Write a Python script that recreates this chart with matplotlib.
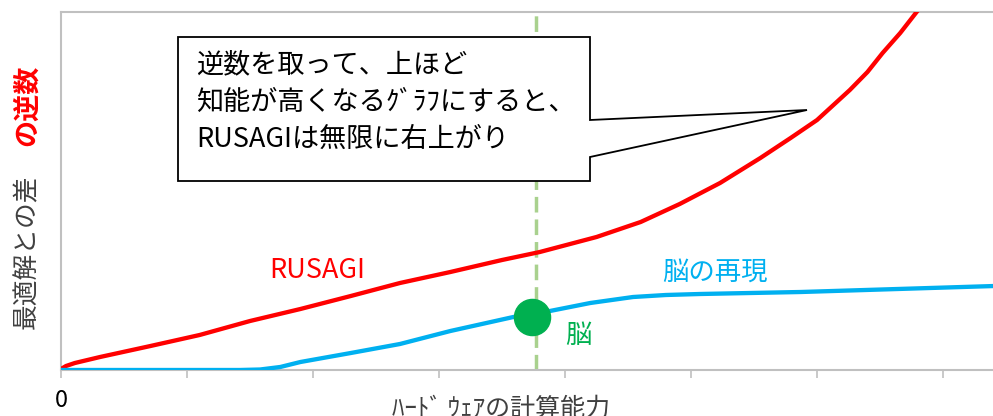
import matplotlib.pyplot as plt
from matplotlib.patches import Polygon

plt.rcParams['font.family'] = ['Noto Sans CJK JP', 'DejaVu Sans']

# データ（目盛り1つ = x 1単位、縦軸は任意単位）
rusagi_x = [0.0, 0.04, 0.11, 0.31, 0.71, 1.10, 1.50, 1.90, 2.30, 2.69, 3.09, 3.50, 3.80, 4.25, 4.60,
            4.91, 5.23, 5.55, 5.79, 6.00, 6.26, 6.40, 6.52, 6.66, 6.79, 6.94]
rusagi_y = [0.1, 0.4, 0.7, 1.3, 2.4, 3.5, 4.9, 6.1, 7.4, 8.7, 9.8, 11.0, 11.8, 13.3, 14.8,
            16.6, 18.7, 21.2, 23.2, 25.0, 28.0, 29.8, 31.7, 33.7, 35.8, 38.0]

brain_x = [0.0, 1.42, 1.58, 1.74, 1.90, 2.30, 2.69, 3.09, 3.59, 3.88, 4.20, 4.54, 4.80, 5.07, 5.87, 7.41]
brain_y = [0.0, 0.0, 0.05, 0.3, 0.8, 1.7, 2.6, 3.9, 5.3, 5.9, 6.7, 7.3, 7.5, 7.6, 7.8, 8.4]

brain_point_x = 3.74
brain_point_y = 5.3
brain_line_x = 3.77

tick_pos = [0, 1, 2, 3, 4, 5, 6, 7]
tick_labels = ['0', '', '', '', '', '', '', '']

callout_lines = ['逆数を取って、上ほど', '知能が高くなるｸﾞﾗﾌにすると、', 'RUSAGIは無限に右上がり']

W, H = 993, 416
fig = plt.figure(figsize=(W / 100, H / 100), dpi=100)
ax = fig.add_axes([61 / W, 46 / H, 935 / W, 358 / H])

ax.plot(rusagi_x, rusagi_y, color='#ff0000', lw=3.1, solid_capstyle='round', solid_joinstyle='round', zorder=3)
ax.plot(brain_x, brain_y, color='#00b0f0', lw=3.1, solid_capstyle='round', solid_joinstyle='round', zorder=3)
ax.axvline(brain_line_x, color='#a9d18e', lw=2.5, dashes=(4.5, 2), zorder=2)
ax.plot([brain_point_x], [brain_point_y], 'o', color='#00b050', ms=26, zorder=4)

ax.set_xlim(0, 7.42)
ax.set_ylim(0, 35.8)
ax.set_xticks(tick_pos)
ax.set_xticklabels(tick_labels, fontsize=17, color='#000000')
ax.set_yticks([])
ax.tick_params(axis='x', direction='out', length=6, width=1.2, color='#c0c0c0', pad=8)
for s in ['left', 'bottom', 'top']:
    ax.spines[s].set_color('#c0c0c0')
    ax.spines[s].set_linewidth(1.5)
ax.spines['right'].set_visible(False)


# ピクセル座標（左上原点）→ 図座標
def fp(px, py):
    return (px / W, 1 - py / H)


# ラベル
fig.text(*fp(317, 270), 'RUSAGI', fontsize=19.5, color='#ff0000', ha='center', va='center')
fig.text(*fp(715, 272), '脳の再現', fontsize=19, color='#00b0f0', ha='center', va='center')
fig.text(*fp(578, 335), '脳', fontsize=19, color='#00b050', ha='center', va='center')

# 吹き出し
shape = [fp(178, 37), fp(590, 37), fp(590, 120), fp(807, 110), fp(590, 157), fp(590, 181), fp(178, 181)]
fig.patches.append(Polygon(shape, closed=True, transform=fig.transFigure, facecolor='white',
                           edgecolor='black', lw=1.3, zorder=10))
for i, line in enumerate(callout_lines):
    fig.text(*fp(196, 65 + i * 37), line, fontsize=19.5, color='black', ha='left', va='center', zorder=11)

# 軸ラベル
fig.text(*fp(27, 252), '最適解との差', rotation=90, fontsize=18.5, color='#404040', ha='center', va='center')
fig.text(*fp(27, 105), 'の逆数', rotation=90, fontsize=19.5, color='#ff0000', fontweight='bold',
         ha='center', va='center')
fig.text(*fp(501, 409), 'ﾊｰﾄﾞ ｳｪｱの計算能力', fontsize=18, color='#404040', ha='center', va='center')

fig.savefig('out.png', dpi=100)
